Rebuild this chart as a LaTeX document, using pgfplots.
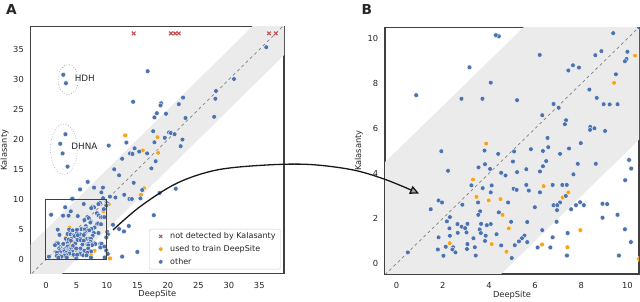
\documentclass[border=0pt]{standalone}
\usepackage{fontspec}
\setmainfont{DejaVu Sans}
\usepackage{pgfplots}
\usepackage{pgfplotstable}
\pgfplotsset{compat=1.18}
\usetikzlibrary{arrows.meta}
\definecolor{sbblue}{HTML}{4C72B0}
\definecolor{sborange}{HTML}{F5A41D}
\definecolor{sbred}{HTML}{C44E52}
\definecolor{bandgray}{HTML}{EBEBEB}
\definecolor{framec}{HTML}{404040}
\definecolor{txt}{HTML}{262626}
\definecolor{ellc}{HTML}{7F8FC0}

\pgfplotstableread{
x y
4.43 10.1
3.16 8.72
4.08 8.04
0.85 7.48
2.81 7.32
3.72 7.32
3.81 5.02
1.94 4.99
9.38 10.24
6.2 9.27
8.87 9.44
8.61 9.26
10.0 9.41
9.96 9.09
9.89 8.99
7.64 8.81
7.9 8.71
7.44 8.58
9.5 8.41
8.35 7.73
8.67 7.36
8.97 7.08
9.23 7.07
9.57 7.08
5.22 7.26
6.8 7.09
7.02 6.92
6.31 6.59
7.34 6.37
7.29 6.19
8.39 6.07
8.38 5.94
8.57 6.01
9.03 5.89
6.54 5.58
7.98 5.35
6.57 5.17
7.47 5.11
5.82 5.08
6.34 5.0
4.4 4.87
5.04 4.53
3.83 4.41
3.55 4.27
4.05 4.2
2.23 4.12
4.53 4.03
4.72 3.91
3.24 3.47
4.12 3.47
3.73 3.35
4.08 3.16
3.53 2.71
1.82 2.8
1.97 2.71
2.85 2.61
4.83 2.71
1.48 2.41
3.62 2.32
4.43 2.27
3.54 2.16
2.31 2.06
2.18 1.87
4.96 1.85
3.07 1.76
2.64 1.75
3.66 1.76
4.08 1.75
3.91 1.7
2.82 1.63
2.29 1.56
2.97 1.57
3.6 1.51
2.65 1.36
3.03 1.38
3.65 1.35
4.33 1.3
2.31 1.23
3.86 1.23
1.82 1.16
3.33 1.12
3.83 1.0
3.07 0.86
2.13 0.74
2.45 0.72
3.39 0.72
4.53 0.8
1.79 0.62
3.05 0.64
2.42 0.62
2.55 0.49
2.03 0.34
3.43 0.35
4.99 0.24
0.49 0.49
5.09 4.98
7.08 4.87
6.48 4.55
6.34 4.32
5.62 4.19
5.22 4.06
6.21 4.09
7.85 4.43
8.63 4.43
7.66 3.96
10.07 4.6
10.16 4.22
9.9 3.7
5.62 3.49
6.76 3.49
7.18 3.49
7.37 3.49
5.07 3.32
5.2 3.27
5.73 3.24
6.21 3.16
7.33 3.0
7.08 2.71
6.8 2.59
6.96 2.59
5.99 2.5
7.95 2.72
7.77 2.59
8.11 2.59
7.56 2.41
6.95 2.37
8.92 2.65
9.12 2.64
8.92 2.03
9.57 2.16
6.93 1.85
5.66 1.84
6.31 1.48
9.89 1.52
7.41 1.35
5.54 1.24
5.43 1.12
6.76 1.16
5.3 0.98
5.66 0.95
10.15 0.95
5.12 0.81
6.11 0.71
6.66 0.71
7.38 0.35
9.63 0.35
36.15 35.4
16.69 31.4
30.85 30.1
27.9 28.1
27.8 26.8
22.5 27.0
21.8 25.9
14.3 26.3
18.9 26.05
18.8 25.7
27.6 23.8
22.9 23.6
18.2 24.4
19.7 24.3
17.8 23.7
17.6 21.4
20.2 21.2
20.5 21.1
21.1 20.9
19.5 20.3
22.4 20.0
13.2 19.5
17.8 19.55
22.1 18.9
10.3 19.0
14.55 18.55
13.8 17.7
14.2 17.6
15.3 18.0
16.6 17.7
12.5 16.8
18.0 16.4
11.2 15.05
17.3 15.2
12.0 14.05
14.4 12.8
9.35 12.0
9.1 11.2
15.8 11.6
18.65 11.1
21.3 11.8
12.85 10.8
11.4 10.35
13.7 10.1
14.1 10.1
15.5 10.2
10.5 10.5
7.9 12.0
6.85 12.95
5.6 11.7
4.3 10.15
2.85 30.8
3.28 29.4
3.2 20.9
2.35 19.3
2.73 17.7
3.55 15.5
17.7 7.4
11.0 5.8
12.0 5.1
12.8 4.7
13.6 5.6
15.0 1.27
12.5 0.5
}\blueT

\pgfplotstableread{
x y
3.88 5.33
10.33 9.24
9.42 8.03
3.31 3.73
3.46 2.96
3.99 2.8
4.5 2.86
4.59 2.16
4.86 1.56
2.3 0.9
4.12 0.86
4.76 0.52
6.37 3.44
7.44 3.16
7.19 2.93
7.96 1.48
6.3 0.84
7.4 0.72
10.5 0.2
13.0 20.7
18.3 20.4
15.9 18.2
18.4 17.8
16.1 11.9
15.6 10.8
}\orangeT

\pgfplotstableread{
x y
14.39 37.7
20.5 37.7
21.2 37.7
21.8 37.7
36.6 37.7
37.7 37.7
}\redT

\pgfplotsset{
  myaxis/.style={
    scale only axis, anchor=south west,
    axis line style={framec, line width=1.1pt},
    tick style={draw=none},
    clip marker paths=true,
    /pgf/number format/assume math mode=true,
    tick label style={font=\fontsize{8.3}{10}\selectfont, text=txt},
    xticklabel style={anchor=base, yshift=-15pt, inner sep=0pt},
    yticklabel style={anchor=east, xshift=-6.7pt, inner sep=0pt},
    label style={font=\fontsize{8.3}{10}\selectfont, text=txt},
    xlabel style={at={(axis description cs:0.5,-0.0954)}, anchor=base},
    ylabel style={at={(axis description cs:-0.094,0.5)}, anchor=base},
  },
  legimg/.style={legend image code/.code={\path[draw=none,fill=none] (0pt,-1pt) rectangle (16pt,1pt); \draw[##1, mark size=2.2pt] plot coordinates {(8.5pt,0pt)};}},
  bluemk/.style={only marks, mark=*, mark size=2.4pt, mark options={fill=sbblue, draw=white, line width=0.35pt}, legimg},
  orgmk/.style={only marks, mark=*, mark size=2.4pt, mark options={fill=sborange, draw=white, line width=0.35pt}, legimg},
  redmk/.style={only marks, mark=x, mark size=2.5pt, mark options={draw=sbred, line width=1.1pt}, legimg},
}

\begin{document}
\begin{tikzpicture}
\useasboundingbox (0pt,0pt) rectangle (640pt,302pt);
\node[anchor=base west, inner sep=0pt, font=\fontsize{13.7}{15}\selectfont\bfseries, text=txt] at (6pt,287pt) {A};
\node[anchor=base west, inner sep=0pt, font=\fontsize{13.7}{15}\selectfont\bfseries, text=txt] at (361.5pt,287pt) {B};

\begin{axis}[myaxis, at={(30.7pt,28.6pt)}, width=253.3pt, height=246.6pt,
  xmin=-2.5, xmax=39.06, ymin=-2.3, ymax=38.8,
  xtick={0,5,...,35}, ytick={0,5,...,35},
  xlabel={DeepSite}, ylabel={Kalasanty},
  legend style={at={(axis description cs:1,0)}, anchor=south east, xshift=-3.3pt, yshift=4pt,
    draw=black!20, rounded corners=2pt, fill=white, text=txt,
    font=\fontsize{8}{9}\selectfont, inner xsep=3pt, inner ysep=1.5pt, row sep=1.2pt},
  legend cell align=left,
]
\addplot[fill=bandgray, draw=none, forget plot] coordinates {(-10,-15) (50,45) (50,55) (-10,-5)} -- cycle;
\addplot[gray, dashed, line width=0.7pt, forget plot] coordinates {(-10,-10) (50,50)};
\addplot[redmk] table {\redT};
\addlegendentry{not detected by Kalasanty}
\addplot[orgmk] table {\orangeT};
\addlegendentry{used to train DeepSite}
\addplot[bluemk] table {\blueT};
\addlegendentry{other}
\addplot[framec, line width=0.9pt, forget plot] coordinates {(0,0)(10,0)(10,10)(0,10)(0,0)};
\draw[ellc, dotted, line width=0.6pt] (axis cs:3.66,30.0) ellipse [x radius=1.65, y radius=2.5];
\draw[ellc, dotted, line width=0.6pt] (axis cs:2.95,18.4) ellipse [x radius=2.2, y radius=4.2];
\node[anchor=west, font=\fontsize{8.8}{10}\selectfont, text=txt, inner sep=0pt] at (axis cs:4.7,30.2) {HDH};
\node[anchor=west, font=\fontsize{8.8}{10}\selectfont, text=txt, inner sep=0pt] at (axis cs:4.15,18.9) {DHNA};
\end{axis}

\begin{axis}[myaxis, at={(385pt,28pt)}, width=254pt, height=246.7pt,
  xmin=-0.5, xmax=10.5, ymin=-0.47, ymax=10.5,
  xtick={0,2,...,10}, ytick={0,2,...,10},
  xlabel={DeepSite}, ylabel={Kalasanty},
]
\addplot[fill=bandgray, draw=none] coordinates {(-10,-15) (50,45) (50,55) (-10,-5)} -- cycle;
\addplot[gray, dashed, line width=0.7pt] coordinates {(-10,-10) (50,50)};
\addplot[redmk] table {\redT};
\addplot[orgmk] table {\orangeT};
\addplot[bluemk] table {\blueT};
\end{axis}

\draw[line width=1.3pt, black!90, -{Triangle[length=9pt,width=8.5pt,fill=gray!70]}]
  plot[smooth, tension=0.55] coordinates {(113pt,72pt) (140pt,95.3pt) (176.7pt,118.7pt) (216.7pt,132pt) (266.7pt,137pt) (310pt,137.5pt) (353.3pt,132pt) (386.7pt,122pt) (419pt,108.5pt)};
\end{tikzpicture}
\end{document}
